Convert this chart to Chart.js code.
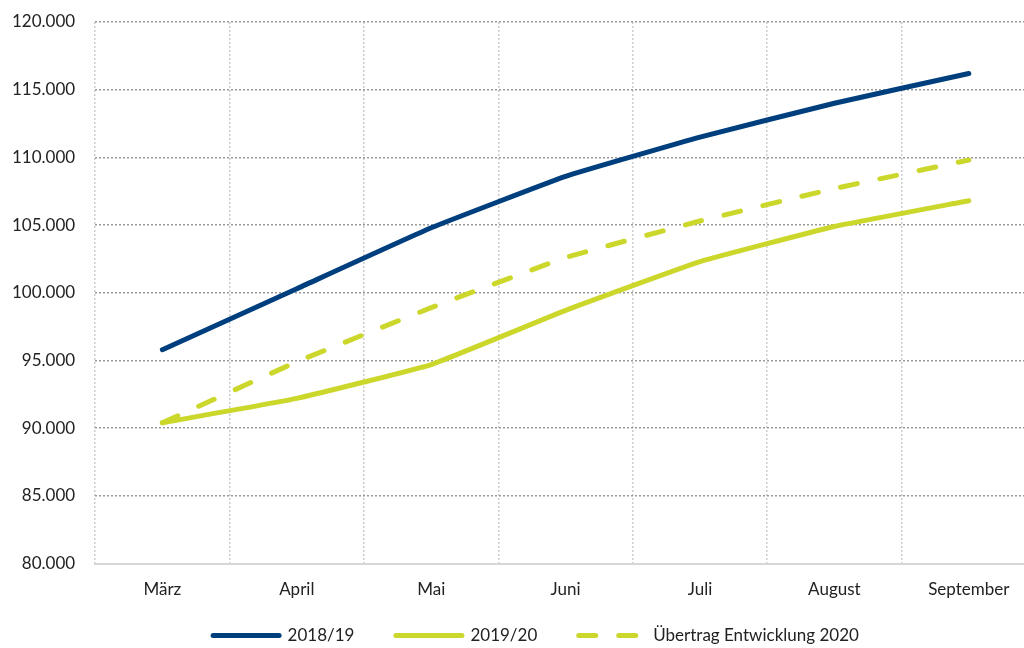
<!DOCTYPE html>
<html>
<head>
<meta charset="utf-8">
<script src="https://cdn.jsdelivr.net/npm/chart.js@4"></script>
<style>
  html, body { margin: 0; padding: 0; background: #fff; overflow: hidden; }
  #wrap { width: 1070px; height: 648px; }
</style>
</head>
<body>
<div id="wrap"><canvas id="lineChart" width="1070" height="648"></canvas></div>
<script>
const months = ['März', 'April', 'Mai', 'Juni', 'Juli', 'August', 'September'];
const werte1819 = [95800, 100300, 104800, 108600, 111500, 114000, 116200];
const werte1920 = [90400, 92200, 94700, 98700, 102300, 104900, 106800];
const uebertrag2020 = [90400, 94900, 98900, 102600, 105300, 107700, 109800];
const yMin = 80000, yMax = 120000, yStep = 5000;

const blue = '#003f7e';
const lime = '#cbd72b';
const dash = [17, 23];

function fmt(v) {
  return String(v).replace(/\B(?=(\d{3})+(?!\d))/g, '.');
}

document.addEventListener('DOMContentLoaded', () => {
  Chart.defaults.font.family = 'Lato, "Open Sans", sans-serif';
  Chart.defaults.font.size = 17;
  Chart.defaults.color = '#222';

  const ctx = document.getElementById('lineChart').getContext('2d');
  new Chart(ctx, {
      type: 'line',
      data: {
          labels: months,
          datasets: [{
              label: '2018/19',
              data: werte1819,
              borderColor: blue,
              backgroundColor: blue,
              borderWidth: 5,
              borderCapStyle: 'round',
              pointRadius: 0,
              tension: 0.1
          }, {
              label: '2019/20',
              data: werte1920,
              borderColor: lime,
              backgroundColor: lime,
              borderWidth: 5,
              borderCapStyle: 'round',
              pointRadius: 0,
              tension: 0.1
          }, {
              label: 'Übertrag Entwicklung 2020',
              data: uebertrag2020,
              borderColor: lime,
              backgroundColor: lime,
              borderWidth: 5,
              borderCapStyle: 'round',
              borderDash: dash,
              pointRadius: 0,
              tension: 0.1
          }]
      },
      options: {
          responsive: false,
          animation: false,
          layout: {
              padding: { left: -8, right: 34, top: 0, bottom: -6 }
          },
          plugins: {
              tooltip: { enabled: false },
              legend: {
                  position: 'bottom',
                  labels: {
                      usePointStyle: true,
                      pointStyle: 'line',
                      pointStyleWidth: 66,
                      boxHeight: 17,
                      padding: 11,
                      generateLabels(chart) {
                          const n = chart.data.datasets.length;
                          // extra space after each item, the legend padding also sets the height
                          return chart.data.datasets.map((ds, i) => ({
                              text: i < n - 1 ? ds.label + '       ' : ds.label,
                              datasetIndex: i,
                              fillStyle: ds.borderColor,
                              strokeStyle: ds.borderColor,
                              fontColor: '#222',
                              lineWidth: ds.borderWidth,
                              lineCap: 'round',
                              lineDash: ds.borderDash || [],
                              pointStyle: 'line',
                              hidden: false
                          }));
                      }
                  }
              }
          },
          scales: {
              x: {
                  offset: true,
                  border: { color: '#d6d6d6', width: 2, dash: [2, 2] },
                  grid: {
                      offset: true,
                      drawTicks: false,
                      color: (c) => c.index === months.length ? 'transparent' : '#cccccc',
                      lineWidth: 1.5
                  },
                  ticks: { padding: 16, maxRotation: 0 }
              },
              y: {
                  min: yMin,
                  max: yMax,
                  border: { display: false, dash: [2, 2] },
                  grid: {
                      drawTicks: false,
                      color: (c) => c.index === 0 ? 'transparent' : '#999999',
                      lineWidth: 1.5
                  },
                  ticks: {
                      stepSize: yStep,
                      padding: 20,
                      callback: (v) => fmt(v)
                  },
                  afterFit(scale) {
                      scale.paddingTop = 22;
                  }
              }
          }
      },
      plugins: [{
          id: 'legendShift',
          afterLayout(chart) {
              // centre the legend on the full chart width
              chart.legend.left += 44;
          }
      }]
  });
});
</script>
</body>
</html>
